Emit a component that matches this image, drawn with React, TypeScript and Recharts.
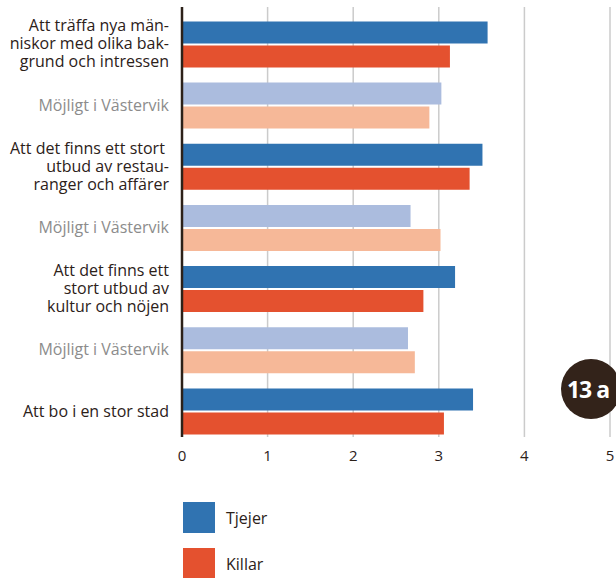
import React from "react";
import {
  BarChart,
  Bar,
  XAxis,
  YAxis,
  CartesianGrid,
  Cell,
} from "recharts";

// Kategorier (rader uppifrån och ned)
const radId = ["r1", "r2", "r3", "r4", "r5", "r6", "r7"];

const radEtiketter: string[][] = [
  ["Att träffa nya män-", "niskor med olika bak-", "grund och intressen"],
  ["Möjligt i Västervik"],
  ["Att det finns ett stort ", "utbud av restau-", "ranger och affärer"],
  ["Möjligt i Västervik"],
  ["Att det finns ett", "stort utbud av", "kultur och nöjen"],
  ["Möjligt i Västervik"],
  ["Att bo i en stor stad"],
];

// true = "Möjligt i Västervik"-rad (ljusare färger)
const mojligt = [false, true, false, true, false, true, false];

const tjejer = [3.57, 3.03, 3.51, 2.67, 3.19, 2.64, 3.4];
const killar = [3.13, 2.89, 3.36, 3.02, 2.82, 2.72, 3.06];

const xTicks = [0, 1, 2, 3, 4, 5];

const BLA = "#3073b1";
const ROD = "#e4512f";
const LJUSBLA = "#abbcde";
const LJUSROD = "#f6b898";
const TEXT = "#2c2119";
const GRA = "#8c8c8c";
const FONT = "'Open Sans', Lato, sans-serif";

const data = radId.map((id, i) => ({
  id,
  tjejer: tjejer[i],
  killar: killar[i],
}));

function RadTick(props: any) {
  const { x, y, payload } = props;
  const i = radId.indexOf(payload.value);
  const lines = radEtiketter[i] ?? [];
  const lh = 18;
  const n = lines.length;
  return (
    <text
      x={x}
      y={y}
      textAnchor="end"
      fontFamily={FONT}
      fontSize={16}
      fill={mojligt[i] ? GRA : TEXT}
    >
      {lines.map((l, k) => (
        <tspan key={k} x={x} y={y + (k - (n - 1) / 2) * lh + 5.5}>
          {l}
        </tspan>
      ))}
    </text>
  );
}

export default function App() {
  return (
    <div
      style={{
        position: "absolute",
        left: 0,
        top: 0,
        width: 616,
        height: 578,
        overflow: "hidden",
        background: "#fff",
        fontFamily: FONT,
      }}
    >
      <BarChart
        width={616}
        height={470}
        data={data}
        layout="vertical"
        margin={{ top: 7, right: 6, left: 0, bottom: 0 }}
        barSize={22}
        barGap={2}
      >
        <CartesianGrid
          horizontal={false}
          stroke="#cbcbcb"
          strokeWidth={1.5}
        />
        <XAxis
          type="number"
          domain={[0, 5]}
          ticks={xTicks}
          axisLine={false}
          tickLine={false}
          tickMargin={7}
          height={33}
          tick={{ fill: TEXT, fontSize: 15, fontFamily: FONT }}
        />
        <YAxis
          type="category"
          dataKey="id"
          width={182}
          padding={{ top: 6.4, bottom: -4.6 }}
          axisLine={{ stroke: TEXT, strokeWidth: 2.5 }}
          tickLine={false}
          tickSize={0}
          tickMargin={13}
          tick={<RadTick />}
          interval={0}
        />
        <Bar dataKey="tjejer" isAnimationActive={false}>
          {data.map((_, i) => (
            <Cell key={i} fill={mojligt[i] ? LJUSBLA : BLA} />
          ))}
        </Bar>
        <Bar dataKey="killar" isAnimationActive={false}>
          {data.map((_, i) => (
            <Cell key={i} fill={mojligt[i] ? LJUSROD : ROD} />
          ))}
        </Bar>
      </BarChart>

      {/* Märke */}
      <div
        style={{
          position: "absolute",
          left: 561,
          top: 359,
          width: 60,
          height: 60,
          borderRadius: "50%",
          background: "#33231a",
          color: "#fff",
          display: "flex",
          alignItems: "center",
          justifyContent: "center",
          fontSize: 23,
          fontWeight: 700,
          letterSpacing: -1,
          paddingRight: 6,
          boxSizing: "border-box",
        }}
      >
        13 a
      </div>

      {/* Förklaring */}
      {[
        { namn: "Tjejer", farg: BLA, top: 502 },
        { namn: "Killar", farg: ROD, top: 548 },
      ].map((l) => (
        <div
          key={l.namn}
          style={{
            position: "absolute",
            left: 183,
            top: l.top,
            display: "flex",
            alignItems: "center",
            height: 31,
          }}
        >
          <div style={{ width: 32, height: 31, background: l.farg }} />
          <span style={{ marginLeft: 11, fontSize: 16, color: TEXT }}>
            {l.namn}
          </span>
        </div>
      ))}
    </div>
  );
}
